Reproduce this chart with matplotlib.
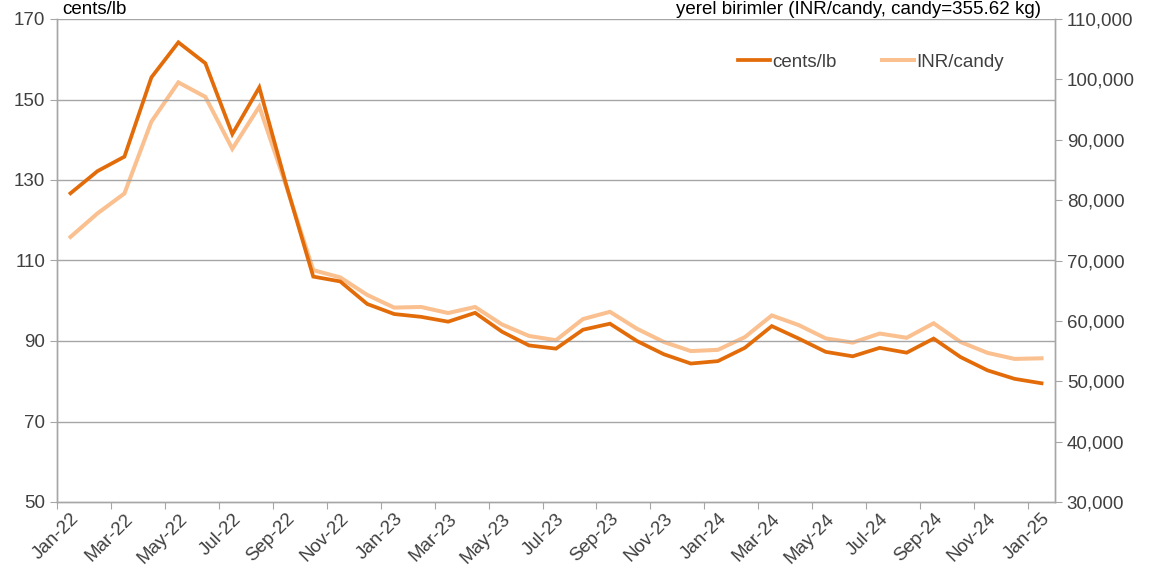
import matplotlib
matplotlib.use("Agg")
import matplotlib.pyplot as plt
from matplotlib.ticker import FuncFormatter

plt.rcParams["font.family"] = ["Liberation Sans", "DejaVu Sans"]

# ===== data =====
months = ["Jan-22", "Feb-22", "Mar-22", "Apr-22", "May-22", "Jun-22", "Jul-22", "Aug-22",
          "Sep-22", "Oct-22", "Nov-22", "Dec-22",
          "Jan-23", "Feb-23", "Mar-23", "Apr-23", "May-23", "Jun-23", "Jul-23", "Aug-23",
          "Sep-23", "Oct-23", "Nov-23", "Dec-23",
          "Jan-24", "Feb-24", "Mar-24", "Apr-24", "May-24", "Jun-24", "Jul-24", "Aug-24",
          "Sep-24", "Oct-24", "Nov-24", "Dec-24", "Jan-25"]

cents_lb = [126.7, 132.2, 135.8, 155.5, 164.2, 159.0, 141.4, 153.0, 128.8, 106.0, 104.8, 99.2,
            96.7, 96.0, 94.8, 97.0, 92.3, 88.9, 88.1, 92.8, 94.3, 90.0, 86.7, 84.4,
            85.0, 88.3, 93.7, 90.6, 87.3, 86.2, 88.3, 87.1, 90.6, 86.0, 82.7, 80.6, 79.5]

inr_candy = [73900, 77800, 81100, 93000, 99500, 97100, 88500, 95500, 82300, 68400, 67200, 64300,
             62200, 62300, 61300, 62300, 59400, 57500, 56800, 60300, 61500, 58700, 56500, 55000,
             55200, 57300, 60900, 59300, 57100, 56400, 57900, 57200, 59600, 56500, 54700, 53700, 53800]

left_ticks = [50, 70, 90, 110, 130, 150, 170]
right_ticks = [30000, 40000, 50000, 60000, 70000, 80000, 90000, 100000, 110000]

dark = "#E36C0A"
light = "#FAC08F"
grid_c = "#A6A6A6"
txt_c = "#404040"
fs = 13.5

# ===== plot =====
fig = plt.figure(figsize=(11.49, 5.78), dpi=100)
ax = fig.add_axes([57 / 1149, 1 - 502 / 578, (1055 - 57) / 1149, (502 - 19) / 578])
ax2 = ax.twinx()

x = list(range(len(months)))
l1, = ax.plot(x, cents_lb, color=dark, lw=2.7, solid_joinstyle="miter", zorder=3, label="cents/lb")
l2, = ax2.plot(x, inr_candy, color=light, lw=2.9, solid_joinstyle="miter", zorder=2, label="INR/candy")

# draw light line beneath dark one
ax.set_zorder(ax2.get_zorder() + 1)
ax.patch.set_visible(False)

ax.set_xlim(-0.5, len(months) - 0.5)
ax.set_ylim(50, 170)
ax2.set_ylim(30000, 110000)
ax.set_yticks(left_ticks)
ax2.set_yticks(right_ticks)
ax2.yaxis.set_major_formatter(FuncFormatter(lambda v, p: f"{int(v):,}"))

# gridlines
for v in left_ticks[1:]:
    ax.axhline(v, color=grid_c, lw=1.0, zorder=0)

# category axis: ticks at boundaries, labels at centers
ax.set_xticks([i - 0.5 for i in range(0, len(months), 2)], minor=False)
ax.set_xticklabels([])
ax.set_xticks(x[::2], minor=True)
ax.set_xticklabels(months[::2], minor=True, rotation=45, ha="right", va="top",
                   rotation_mode="anchor", fontsize=fs, color=txt_c)
ax.tick_params(axis="x", which="minor", length=0, pad=6)
ax.tick_params(axis="x", which="major", length=5, color=grid_c, direction="out")
ax.tick_params(axis="y", labelsize=fs, labelcolor=txt_c, length=5, color=grid_c)
ax2.tick_params(axis="y", labelsize=fs, labelcolor=txt_c, length=5, color=grid_c)
ax2.tick_params(axis="x", length=0)

for a in (ax, ax2):
    a.spines["top"].set_visible(False)
    for s in ("left", "right", "bottom"):
        a.spines[s].set_color(grid_c)
        a.spines[s].set_linewidth(1.0)

fig.text(62 / 1149, 1 - 10 / 578, "cents/lb", fontsize=fs, color="black", ha="left", va="center")
fig.text(1041 / 1149, 1 - 10 / 578, "yerel birimler (INR/candy, candy=355.62 kg)",
         fontsize=fs, color="black", ha="right", va="center")

ax.legend(handles=[l1, l2], loc="center", bbox_to_anchor=(0.8156, 0.911), ncol=2,
          frameon=False, fontsize=fs, handlelength=1.7, handletextpad=0.15,
          columnspacing=2.4, labelcolor=txt_c)

fig.savefig("out.png", dpi=100)
